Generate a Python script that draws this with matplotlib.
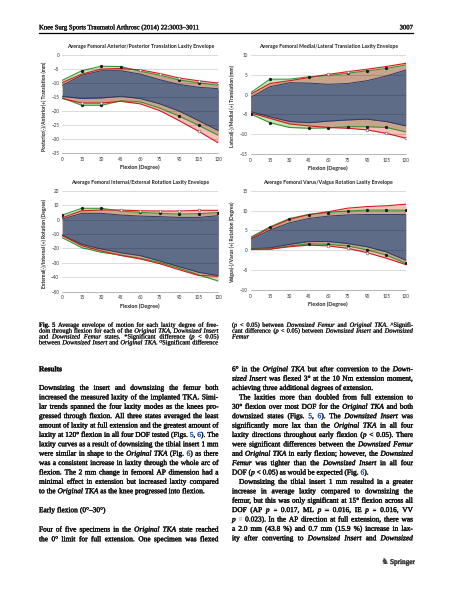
import numpy as np
import matplotlib
matplotlib.use('Agg')
import matplotlib.pyplot as plt
import matplotlib.patheffects as pe

W, H = 451, 599

flexion = [0, 15, 30, 45, 60, 75, 90, 105, 120]

# Anterior/Posterior translation (mm)
ap_orig_up = [-10.8, -7.2, -5.6, -5.6, -6.8, -8.8, -10.5, -11.5, -12.0]
ap_orig_lo = [-14.7, -15.5, -15.3, -14.7, -15.5, -17.4, -20.0, -23.4, -26.9]
ap_fem_up = [-9.0, -5.6, -4.0, -4.1, -5.8, -7.2, -8.9, -9.9, -10.8]
ap_fem_lo = [-15.3, -17.9, -17.9, -16.3, -16.7, -18.9, -21.8, -25.1, -28.6]
ap_ins_up = [-9.8, -6.8, -5.0, -4.8, -5.3, -6.6, -8.2, -9.2, -10.0]
ap_ins_lo = [-15.5, -17.1, -17.1, -16.5, -17.4, -19.8, -23.4, -27.2, -31.3]

# Medial/Lateral translation (mm)
ml_orig_up = [-0.7, 2.0, 3.0, 2.9, 2.6, 2.8, 3.5, 4.7, 6.2]
ml_orig_lo = [-4.3, -5.6, -6.8, -7.1, -6.7, -6.4, -6.2, -6.8, -7.9]
ml_fem_up = [0.5, 3.9, 3.9, 4.5, 4.8, 5.4, 6.0, 6.6, 7.5]
ml_fem_lo = [-4.9, -7.1, -8.3, -8.5, -8.4, -8.1, -8.1, -8.3, -9.4]
ml_ins_up = [0.1, 2.8, 3.5, 4.3, 5.1, 5.8, 6.4, 7.1, 7.9]
ml_ins_lo = [-4.6, -6.0, -7.4, -7.9, -8.3, -8.5, -8.9, -9.8, -11.0]

# Internal/External rotation (degree)
ie_orig_up = [0.4, 4.3, 4.3, 3.1, 2.4, 2.0, 1.5, 1.5, 2.7]
ie_orig_lo = [-10.7, -17.2, -20.4, -23.0, -25.0, -28.7, -32.7, -36.6, -38.9]
ie_fem_up = [3.1, 7.8, 7.8, 5.9, 5.0, 4.3, 3.8, 4.1, 4.8]
ie_fem_lo = [-12.6, -19.5, -22.7, -24.6, -26.9, -29.7, -33.8, -38.4, -42.6]
ie_ins_up = [1.3, 6.1, 6.6, 6.6, 6.1, 5.9, 5.9, 6.4, 6.4]
ie_ins_lo = [-11.2, -18.1, -21.8, -24.9, -27.3, -30.6, -34.8, -38.8, -39.3]

# Varus/Valgus rotation (degree)
vv_orig_up = [2.8, 5.1, 6.9, 8.0, 8.6, 8.9, 9.0, 9.0, 9.0]
vv_orig_lo = [0.4, 0.6, 1.5, 2.2, 2.2, 1.7, 0.9, -0.4, -2.5]
vv_fem_up = [3.3, 5.9, 8.0, 9.0, 9.5, 9.9, 10.1, 10.1, 10.1]
vv_fem_lo = [0.3, 0.3, 1.1, 1.6, 1.5, 1.1, 0.1, -1.2, -3.3]
vv_ins_up = [3.0, 5.7, 7.8, 9.0, 9.7, 10.6, 11.0, 11.2, 11.6]
vv_ins_lo = [0.2, 0.3, 0.9, 1.3, 1.1, 0.5, -0.6, -2.0, -3.6]

# significance markers (flexion angles)
ap_dot_up, ap_dot_lo = [15, 30, 45, 90, 105], [15, 30, 90, 105]
ap_circ_up, ap_circ_lo = [60, 75, 90, 105, 120], [15, 30, 105]
ml_dot_up, ml_dot_lo = [15, 45, 75, 90, 105], [0, 15, 45, 60, 75, 90, 105]
ml_circ_up, ml_circ_lo = [60, 75], [90, 105, 120]
ie_dot_up, ie_dot_lo = [0, 15, 30, 60, 75, 90, 105, 120], []
ie_circ_up, ie_circ_lo = [45, 60, 75, 90, 105], []
vv_dot_up, vv_dot_lo = [15, 30, 45, 60, 75, 90, 105, 120], [45, 60, 75, 90, 105, 120]
vv_circ_up, vv_circ_lo = [], [60, 75, 90]

titles = ['Average Femoral Anterior/Posterior Translation Laxity Envelope',
          'Average Femoral Medial/Lateral Translation Laxity Envelope',
          'Average Femoral Internal/External Rotation Laxity Envelope',
          'Average Femoral Varus/Valgus Rotation Laxity Envelope']
ylabels = ['Posterior(-)/Anterior(+) Translation (mm)',
           'Lateral(-)/Medial (+) Translation (mm)',
           'External(-)/Internal (+) Rotation (Degree)',
           'Valgus(-)/Varus (+) Rotation (Degree)']

PINK = '#f5bfba'
LGREEN = '#c4e4b8'
TAN = '#c8a48c'
SLATE = '#5e6c88'
NAVY = '#2d3b66'
RED = '#d81a1a'
GREEN = '#3a9430'
CHART_FONT = 'Lato'
SERIF = ['Liberation Serif', 'DejaVu Serif', 'DejaVu Sans']
BLUE = '#2a5db0'
INK = '#111111'

fig = plt.figure(figsize=(W / 100, H / 100), dpi=100)


def draw_panel(rect, ylim, ystep, title, ylabel, orig, fem, ins, dots, circs):
    l, t, r, b = rect
    ax = fig.add_axes([l / W, 1 - b / H, (r - l) / W, (b - t) / H])
    x = np.array(flexion)
    ou, ol = np.array(orig[0]), np.array(orig[1])
    fu, fl = np.array(fem[0]), np.array(fem[1])
    iu, il = np.array(ins[0]), np.array(ins[1])
    ax.fill_between(x, iu, il, color=PINK, lw=0, zorder=1)
    ax.fill_between(x, fu, fl, color=LGREEN, lw=0, zorder=1.1)
    ax.fill_between(x, np.minimum(iu, fu), np.maximum(il, fl), color=TAN, lw=0, zorder=1.2)
    ax.fill_between(x, ou, ol, color=SLATE, lw=0, zorder=1.3)
    for yy in (ou, ol):
        ax.plot(x, yy, color=NAVY, lw=0.7, zorder=2)
    for yy in (fu, fl):
        ax.plot(x, yy, color=GREEN, lw=0.8, zorder=2.1)
    for yy in (iu, il):
        ax.plot(x, yy, color=RED, lw=0.8, zorder=2.2)
    # significance markers
    for angles, series in ((dots[0], fu), (dots[1], fl)):
        idx = [flexion.index(a) for a in angles]
        ax.plot(x[idx], series[idx], ls='none', marker='o', ms=1.3, color='#1a1a1a', zorder=3)
    for angles, series in ((circs[0], iu), (circs[1], il)):
        idx = [flexion.index(a) for a in angles]
        ax.plot(x[idx], series[idx], ls='none', marker='o', ms=2.0, mfc='white',
                mec='#555555', mew=0.4, zorder=3)

    ax.set_xlim(0, 120)
    ax.set_ylim(*ylim)
    ax.set_xticks(flexion)
    ax.set_yticks(np.arange(ylim[0], ylim[1] + 0.1, ystep))
    ax.yaxis.grid(True, color='k', alpha=0.2, lw=0.5, zorder=2.5)
    ax.set_axisbelow(False)
    for s in ('top', 'right', 'left'):
        ax.spines[s].set_visible(False)
    ax.spines['bottom'].set_color('#9a9a9a')
    ax.spines['bottom'].set_linewidth(0.5)
    ax.spines['bottom'].set_zorder(4)
    ax.tick_params(axis='both', length=0, labelsize=3.3, labelcolor='#333333')
    ax.tick_params(axis='x', pad=2.6)
    ax.tick_params(axis='y', pad=2.2)
    for lab in ax.get_xticklabels() + ax.get_yticklabels():
        lab.set_family(CHART_FONT)
    fig.text((l + r) / 2 / W, 1 - (t - 8.5) / H, title, ha='center', va='center',
             fontsize=3.7, weight='bold', family=CHART_FONT, color='#222222')
    fig.text((l + r) / 2 / W, 1 - (b + 14.4) / H, 'Flexion (Degree)', ha='center',
             va='center', fontsize=3.9, weight='bold', family=CHART_FONT, color='#222222')
    fig.text((l - 18) / W, 1 - ((t + b) / 2 + 2) / H, ylabel, ha='center', va='center',
             rotation=90, fontsize=3.6, weight='bold', family=CHART_FONT, color='#222222')
    return ax


draw_panel((62.3, 55, 218.3, 153.3), (-35, 0), 5, titles[0], ylabels[0],
           (ap_orig_up, ap_orig_lo), (ap_fem_up, ap_fem_lo), (ap_ins_up, ap_ins_lo),
           (ap_dot_up, ap_dot_lo), (ap_circ_up, ap_circ_lo))
draw_panel((250.7, 55, 405.7, 154), (-15, 10), 5, titles[1], ylabels[1],
           (ml_orig_up, ml_orig_lo), (ml_fem_up, ml_fem_lo), (ml_ins_up, ml_ins_lo),
           (ml_dot_up, ml_dot_lo), (ml_circ_up, ml_circ_lo))
draw_panel((62.3, 190.7, 218.3, 291.7), (-50, 20), 10, titles[2], ylabels[2],
           (ie_orig_up, ie_orig_lo), (ie_fem_up, ie_fem_lo), (ie_ins_up, ie_ins_lo),
           (ie_dot_up, ie_dot_lo), (ie_circ_up, ie_circ_lo))
draw_panel((250.7, 190.7, 405.7, 290), (-10, 15), 5, titles[3], ylabels[3],
           (vv_orig_up, vv_orig_lo), (vv_fem_up, vv_fem_lo), (vv_ins_up, vv_ins_lo),
           (vv_dot_up, vv_dot_lo), (vv_circ_up, vv_circ_lo))


# ---- page text ----
def parse(line):
    # '_' italic, '#' bold, '|' blue
    words, cur, buf = [], [], ''
    it = bd = bl = False
    for ch in line + ' ':
        if ch in '_#|' or ch == ' ':
            if buf:
                cur.append((buf, it, bd, bl))
                buf = ''
            if ch == '_':
                it = not it
            elif ch == '#':
                bd = not bd
            elif ch == '|':
                bl = not bl
            elif cur:
                words.append(cur)
                cur = []
        else:
            buf += ch
    return words


renderer = fig.canvas.get_renderer()


def put_line(line, x0, x1, y, size, justify=True, indent=0.0, stroke=0.25):
    arts, widths = [], []
    for w in parse(line):
        segs, ws = [], []
        for s, it, bd, bl in w:
            col = BLUE if bl else INK
            t = fig.text(0, 1 - y / H, s, fontsize=size, family=SERIF,
                         style='italic' if it else 'normal',
                         weight='bold' if bd else 'normal',
                         color=col, ha='left', va='baseline',
                         path_effects=[pe.withStroke(linewidth=stroke, foreground=col)])
            segs.append(t)
            ws.append(t.get_window_extent(renderer).width)
        arts.append(segs)
        widths.append(ws)
    space = size * 100 / 72 * 0.25
    total = sum(sum(ws) for ws in widths)
    if justify and len(arts) > 1:
        gap = max((x1 - x0 - indent - total) / (len(arts) - 1), 0.4 * space)
    else:
        gap = space
    x = x0 + indent
    for segs, ws in zip(arts, widths):
        for t, w in zip(segs, ws):
            t.set_x(x / W)
            x += w
        x += gap


def put_block(lines, x0, x1, y0, step, size, stroke=0.25):
    for i, (line, just, ind) in enumerate(lines):
        put_line(line, x0, x1, y0 + i * step, size, just, ind, stroke)


# running header
head_fx = [pe.withStroke(linewidth=0.2, foreground=INK)]
fig.text(39 / W, 1 - 29.3 / H, 'Knee Surg Sports Traumatol Arthrosc (2014) 22:3003\u20133011',
         fontsize=4.8, family=SERIF, ha='left', va='baseline', color=INK, path_effects=head_fx)
fig.text(413 / W, 1 - 29.3 / H, '3007', fontsize=4.8, family=SERIF, ha='right',
         va='baseline', color=INK, path_effects=head_fx)
fig.add_artist(plt.Line2D([39 / W, 413 / W], [1 - 33.3 / H, 1 - 33.3 / H], color='black', lw=0.9))

cap_left = [
    ('#Fig. 5# Average envelope of motion for each laxity degree of free-', True, 0),
    ('dom through flexion for each of the _Original TKA_, _Downsized Insert_', True, 0),
    ('and _Downsized Femur_ states. *Significant difference (_p_ < 0.05)', True, 0),
    ('between _Downsized Insert_ and _Original TKA_. \u1d3cSignificant difference', True, 0),
]
cap_right = [
    ('(_p_ < 0.05) between _Downsized Femur_ and _Original TKA_. ^Signifi-', True, 0),
    ('cant difference (_p_ < 0.05) between _Downsized Insert_ and _Downsized_', True, 0),
    ('_Femur_', False, 0),
]

body_left = [
    ('Downsizing the insert and downsizing the femur both', True, 0),
    ('increased the measured laxity of the implanted TKA. Simi-', True, 0),
    ('lar trends spanned the four laxity modes as the knees pro-', True, 0),
    ('gressed through flexion. All three states averaged the least', True, 0),
    ('amount of laxity at full extension and the greatest amount of', True, 0),
    ('laxity at 120\u00b0 flexion in all four DOF tested (Figs. |5|, |6|). The', True, 0),
    ('laxity curves as a result of downsizing the tibial insert 1 mm', True, 0),
    ('were similar in shape to the _Original TKA_ (Fig. |6|) as there', True, 0),
    ('was a consistent increase in laxity through the whole arc of', True, 0),
    ('flexion. The 2 mm change in femoral AP dimension had a', True, 0),
    ('minimal effect in extension but increased laxity compared', True, 0),
    ('to the _Original TKA_ as the knee progressed into flexion.', False, 0),
]
body_left2 = [
    ('Four of five specimens in the _Original TKA_ state reached', True, 0),
    ('the 0\u00b0 limit for full extension. One specimen was flexed', True, 0),
]
body_right = [
    ('6\u00b0 in the _Original TKA_ but after conversion to the _Down-_', True, 0),
    ('_sized Insert_ was flexed 3\u00b0 at the 10 Nm extension moment,', True, 0),
    ('achieving three additional degrees of extension.', False, 0),
    ('The laxities more than doubled from full extension to', True, 7),
    ('30\u00b0 flexion over most DOF for the _Original TKA_ and both', True, 0),
    ('downsized states (Figs. |5|, |6|). The _Downsized Insert_ was', True, 0),
    ('significantly more lax than the _Original TKA_ in all four', True, 0),
    ('laxity directions throughout early flexion (_p_ < 0.05). There', True, 0),
    ('were significant differences between the _Downsized Femur_', True, 0),
    ('and _Original TKA_ in early flexion; however, the _Downsized_', True, 0),
    ('_Femur_ was tighter than the _Downsized Insert_ in all four', True, 0),
    ('DOF (_p_ < 0.05) as would be expected (Fig. |6|).', False, 0),
    ('Downsizing the tibial insert 1 mm resulted in a greater', True, 7),
    ('increase in average laxity compared to downsizing the', True, 0),
    ('femur, but this was only significant at 15\u00b0 flexion across all', True, 0),
    ('DOF (AP _p_ = 0.017, ML _p_ = 0.016, IE _p_ = 0.016, VV', True, 0),
    ('_p_ = 0.023). In the AP direction at full extension, there was', True, 0),
    ('a 2.0 mm (43.8 %) and 0.7 mm (15.9 %) increase in lax-', True, 0),
    ('ity after converting to _Downsized Insert_ and _Downsized_', True, 0),
]

LEFT = (39, 218.5)
RIGHT = (232, 413)
CAP = 4.6
BODY = 5.3

put_block(cap_left, LEFT[0], LEFT[1], 326.8, 5.85, CAP, 0.12)
put_block(cap_right, RIGHT[0], RIGHT[1], 326.8, 5.85, CAP, 0.12)

put_line('#Results#', LEFT[0], LEFT[1], 371.2, BODY, False)
put_block(body_left, LEFT[0], LEFT[1], 389.9, 9.39, BODY)
put_line('Early flexion (0\u00b0\u201330\u00b0)', LEFT[0], LEFT[1], 512.2, BODY, False)
put_block(body_left2, LEFT[0], LEFT[1], 531.5, 9.7, BODY)
put_block(body_right, RIGHT[0], RIGHT[1], 371.2, 9.39, BODY)

# publisher mark
fig.text(388.5 / W, 1 - 562 / H, '\u265e', fontsize=6.5, family='DejaVu Sans', ha='right',
         va='center', color='#444444')
fig.text(390 / W, 1 - 564 / H, 'Springer', fontsize=5.2, family=SERIF, ha='left',
         va='baseline', color='#333333', path_effects=[pe.withStroke(linewidth=0.25, foreground='#333333')])

fig.savefig('out.png', dpi=100)
